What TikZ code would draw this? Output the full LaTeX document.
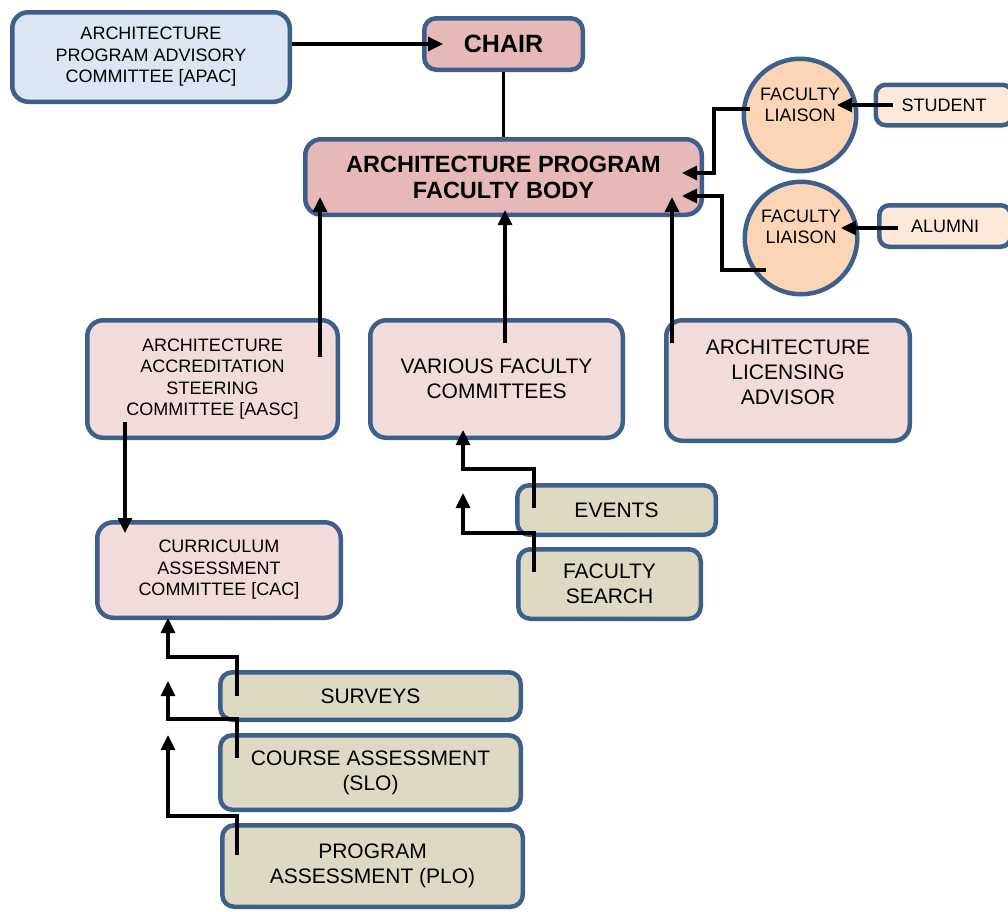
\documentclass[tikz,border=0pt]{standalone}
\usepackage{fontspec}
\setmainfont{Liberation Sans}
\usetikzlibrary{arrows.meta}

\definecolor{edgeblue}{RGB}{60,95,140}
\definecolor{apacfill}{RGB}{220,230,242}
\definecolor{chairfill}{RGB}{230,185,184}
\definecolor{cmtfill}{RGB}{242,220,219}
\definecolor{liaisonfill}{RGB}{251,213,181}
\definecolor{groupfill}{RGB}{253,233,217}
\definecolor{taskfill}{RGB}{221,217,195}

\newcommand\fsmall{\fontsize{18}{21.5}\selectfont}
\newcommand\fmed{\fontsize{21}{25}\selectfont}
\newcommand\fchair{\fontsize{25}{28}\selectfont\bfseries}
\newcommand\fbody{\fontsize{23.5}{26}\selectfont\bfseries}

\begin{document}
\begin{tikzpicture}[
  x=1pt, y=-1pt,
  box/.style={draw=edgeblue, line width=4.5pt, rounded corners=16pt,
              align=center, inner sep=0pt},
  sz/.style 2 args={minimum width=#1pt-4.5pt, minimum height=#2pt-4.5pt},
  liaison/.style={circle, draw=edgeblue, line width=4.5pt, fill=liaisonfill,
                  minimum size=112.5pt, inner sep=0pt},
  txt/.style={align=center, inner sep=0pt, font=\fsmall},
  conn/.style={line width=3.2pt, black},
  arr/.style={conn, -{Triangle[length=15pt,width=14pt]}},
]
\useasboundingbox (0,0) rectangle (1008,911);

% ---- top level
\node[box, fill=apacfill, sz={282}{94}, font=\fsmall] (apac) at (151,57)
  {ARCHITECTURE\\PROGRAM ADVISORY\\COMMITTEE [APAC]};
\node[box, fill=chairfill, sz={163}{56}, rounded corners=12pt, font=\fchair] (chair) at (503.5,44) {CHAIR};
\node[box, fill=chairfill, sz={401}{80}, font=\fbody] (body) at (503.5,177)
  {ARCHITECTURE PROGRAM\\FACULTY BODY};

% ---- liaisons and their groups
\node[liaison] (liaisonA) at (800,115) {};
\node[txt] (liaisonAtext) at (800,105) {FACULTY\\LIAISON};
\node[liaison] (liaisonB) at (801,238) {};
\node[txt] (liaisonBtext) at (801,227) {FACULTY\\LIAISON};
\node[box, fill=groupfill, sz={141}{45}, rounded corners=10pt, font=\fsmall] (student) at (944,105) {STUDENT};
\node[box, fill=groupfill, sz={136}{46}, rounded corners=10pt, font=\fsmall] (alumni) at (945,226) {ALUMNI};

% ---- committees
\node[box, fill=cmtfill, sz={255}{122}, font=\fsmall] (aasc) at (212.5,379)
  {ARCHITECTURE\\ACCREDITATION\\STEERING\\COMMITTEE [AASC]};
\node[box, fill=cmtfill, sz={257}{122}, font=\fmed] (various) at (496.5,379)
  {VARIOUS FACULTY\\COMMITTEES};
\node[box, fill=cmtfill, sz={248}{125}] (licensing) at (788,380.5) {};
\node[txt, font=\fmed] (licensingtext) at (788,372)
  {ARCHITECTURE\\LICENSING\\ADVISOR};
\node[box, fill=cmtfill, sz={248}{100}, font=\fsmall] (cac) at (219,570)
  {CURRICULUM\\ASSESSMENT\\COMMITTEE [CAC]};

% ---- task groups
\node[box, fill=taskfill, sz={203}{54}, rounded corners=12pt, font=\fmed] (events) at (616.5,510) {EVENTS};
\node[box, fill=taskfill, sz={187}{74}, rounded corners=12pt, font=\fmed] (search) at (609.5,584) {FACULTY\\SEARCH};
\node[box, fill=taskfill, sz={305}{52}, rounded corners=12pt, font=\fmed] (surveys) at (370.5,696) {SURVEYS};
\node[box, fill=taskfill, sz={305}{79}, rounded corners=12pt, font=\fmed] (course) at (370.5,772.5) {COURSE ASSESSMENT\\(SLO)};
\node[box, fill=taskfill, sz={305}{86}, rounded corners=12pt, font=\fmed] (program) at (372.5,866) {PROGRAM\\ASSESSMENT (PLO)};

% ---- connector end points
\coordinate (chairIn) at (443,44);
\coordinate (aascOut) at (320,357);   \coordinate (bodyInA) at (320,197);
\coordinate (variousOut) at (505,343); \coordinate (bodyInB) at (505,210);
\coordinate (licOut) at (672,343);    \coordinate (bodyInC) at (672,197);
\coordinate (liaisonAOut) at (750,109); \coordinate (bodyInD) at (682,173);
\coordinate (liaisonBOut) at (766,270); \coordinate (bodyInE) at (682,196);
\coordinate (studentOut) at (893,105); \coordinate (liaisonAIn) at (837,105);
\coordinate (alumniOut) at (898,228);  \coordinate (liaisonBIn) at (841,228);
\coordinate (aascDown) at (125,422);  \coordinate (cacIn) at (125,533);
\coordinate (eventsOut) at (534,508); \coordinate (variousIn) at (463,430);
\coordinate (searchOut) at (534,572); \coordinate (searchTip) at (463,493);
\coordinate (surveysOut) at (237,696); \coordinate (cacInA) at (168,618);
\coordinate (courseOut) at (237,758);  \coordinate (courseTip) at (168,681);
\coordinate (programOut) at (237,855); \coordinate (programTip) at (168,735);

% ---- connectors
\draw[arr] (apac.east |- chair.center) -- (chairIn);
\draw[conn] (chair.south) -- (body.north);
\draw[arr] (aascOut) -- (bodyInA);
\draw[arr] (variousOut) -- (bodyInB);
\draw[arr] (licOut) -- (bodyInC);
\draw[arr] (liaisonAOut) -- (714,109) |- (bodyInD);
\draw[arr] (liaisonBOut) -- (722,270) |- (bodyInE);
\draw[arr] (studentOut) -- (liaisonAIn);
\draw[arr] (alumniOut) -- (liaisonBIn);
\draw[arr] (aascDown) -- (cacIn);
\draw[arr] (eventsOut) -- (534,469) -| (variousIn);
\draw[arr] (searchOut) -- (534,533) -| (searchTip);
\draw[arr] (surveysOut) -- (237,657) -| (cacInA);
\draw[arr] (courseOut) -- (237,719) -| (courseTip);
\draw[arr] (programOut) -- (237,816) -| (programTip);
\end{tikzpicture}
\end{document}
